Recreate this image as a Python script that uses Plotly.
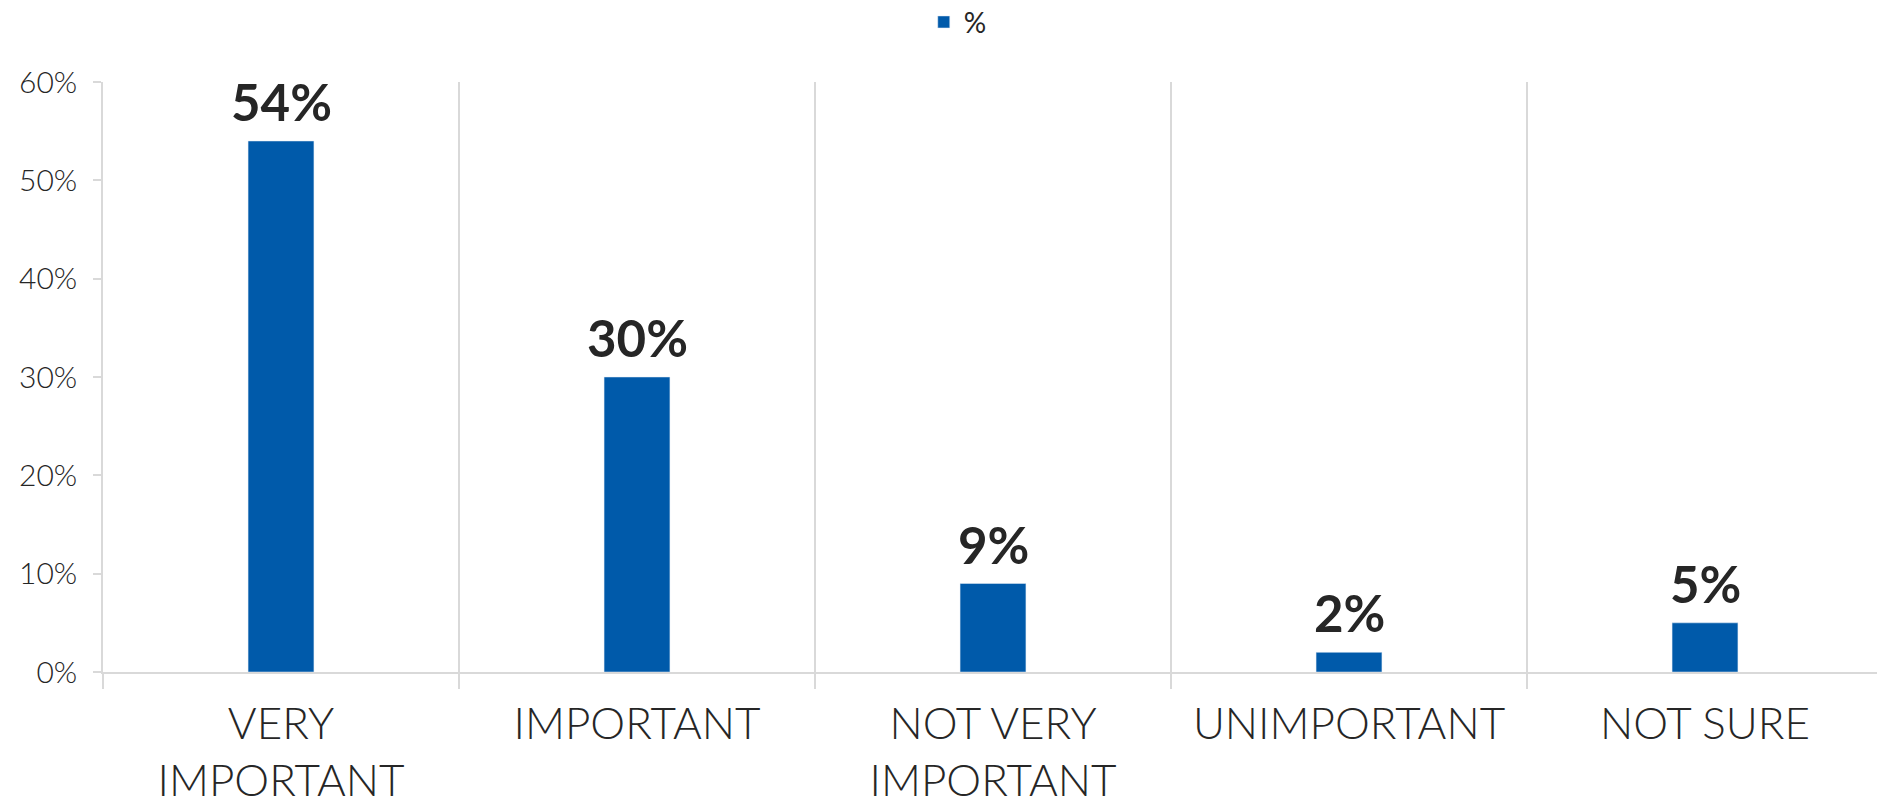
import plotly.graph_objects as go

categories = ["VERY<br>IMPORTANT", "IMPORTANT", "NOT VERY<br>IMPORTANT", "UNIMPORTANT", "NOT SURE"]
values = [54, 30, 9, 2, 5]
y_ticks = [0, 10, 20, 30, 40, 50, 60]
y_tick_labels = [f"{v}%" for v in y_ticks]
series_name = "%"

BAR = "#005AAA"
TXT = "#262626"
GRID = "#d9d9d9"
FONT = "Lato"

# page body has an 8px default margin, so the figure is 8px smaller
W, H = 1877, 792

fig = go.Figure()
fig.add_trace(go.Bar(x=categories, y=values, name=series_name, marker_color=BAR,
                     showlegend=True))

for c, v in zip(categories, values):
    fig.add_annotation(x=c, y=v, text=f"<b>{v}%</b>", showarrow=False,
                       yanchor="bottom", yshift=7,
                       font=dict(family=FONT, size=51, color=TXT))

fig.update_layout(
    width=W, height=H,
    margin=dict(l=95, r=2, t=74, b=128, autoexpand=False),
    plot_bgcolor="white", paper_bgcolor="white",
    bargap=0.815,
    showlegend=True,
    legend=dict(orientation="h", xref="container", x=0.506, xanchor="center",
                yref="container", y=0.982, yanchor="middle",
                font=dict(family=FONT, size=28, color=TXT), itemwidth=30),
    font=dict(family=FONT, color=TXT),
)
fig.update_xaxes(
    type="category", tickson="boundaries", ticks="outside", ticklen=15,
    tickcolor=GRID, tickwidth=1.5, showgrid=True, gridcolor=GRID, gridwidth=1.5,
    showline=True, linecolor=GRID, linewidth=2, automargin=False,
    ticklabelstandoff=12,
    tickfont=dict(family=FONT, size=44, color=TXT, weight=300), range=[-0.5, 4.5],
)
fig.update_yaxes(
    range=[0, 60], tickvals=y_ticks, ticktext=y_tick_labels, showgrid=False,
    ticks="outside", ticklen=8, tickcolor=GRID, tickwidth=1.5, automargin=False,
    showline=True, linecolor=GRID, linewidth=1.5, zeroline=False,
    ticklabelstandoff=10,
    tickfont=dict(family=FONT, size=30, color=TXT, weight=300),
)

fig.write_html("out.html")
